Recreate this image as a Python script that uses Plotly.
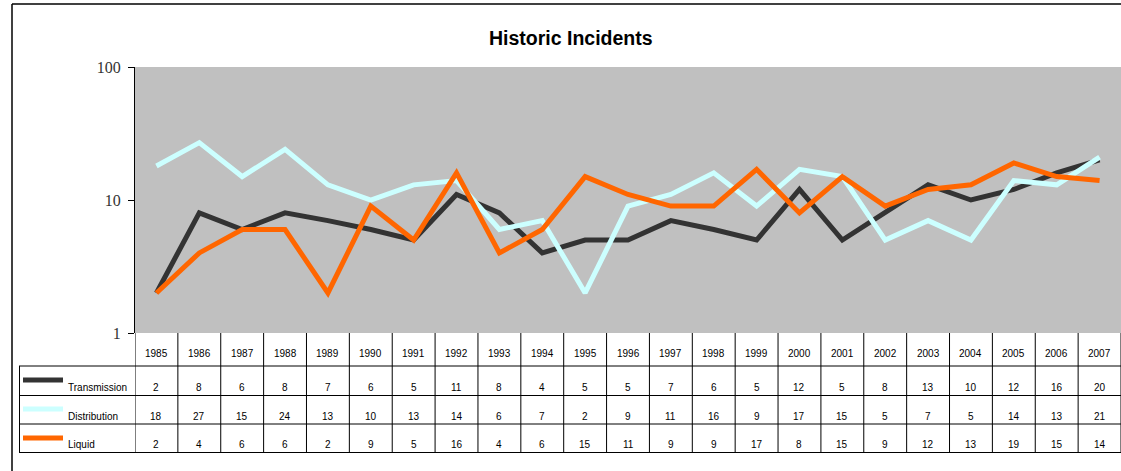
import plotly.graph_objects as go

years = list(range(1985, 2008))
transmission = [2, 8, 6, 8, 7, 6, 5, 11, 8, 4, 5, 5, 7, 6, 5, 12, 5, 8, 13, 10, 12, 16, 20]
distribution = [18, 27, 15, 24, 13, 10, 13, 14, 6, 7, 2, 9, 11, 16, 9, 17, 15, 5, 7, 5, 14, 13, 21]
liquid = [2, 4, 6, 6, 2, 9, 5, 16, 4, 6, 15, 11, 9, 9, 17, 8, 15, 9, 12, 13, 19, 15, 14]

series = [
    ("Transmission", transmission, "#333333"),
    ("Distribution", distribution, "#CCFFFF"),
    ("Liquid", liquid, "#FF6600"),
]

W, H = 1121, 471
ML, MT, MR, MB = 135, 67, 0, 138
PH = H - MT - MB
PW = W - ML - MR


def py(p):  # pixel y -> paper y
    return (H - MB - p) / PH


def px(p):  # pixel x -> paper x
    return (p - ML) / PW


fig = go.Figure()
for name, vals, col in series:
    fig.add_trace(go.Scatter(x=years, y=vals, mode="lines", name=name,
                             line=dict(color=col, width=5), showlegend=False))

shapes = []
annotations = []
line_col = "#000000"

row_tops = [366, 395.5, 424]
row_bot = 452.5

for yy in row_tops + [row_bot]:
    shapes.append(dict(type="line", xref="paper", yref="paper",
                       x0=px(19), x1=1, y0=py(yy), y1=py(yy),
                       line=dict(color=line_col, width=1)))
shapes.append(dict(type="line", xref="paper", yref="paper",
                   x0=px(19.5), x1=px(19.5), y0=py(row_tops[0]), y1=py(row_bot),
                   line=dict(color=line_col, width=1)))
for yr in years + [years[-1] + 1]:
    shapes.append(dict(type="line", xref="x", yref="paper",
                       x0=yr - 0.5, x1=yr - 0.5, y0=0, y1=py(row_bot),
                       line=dict(color=line_col, width=1)))

for yr in years:
    annotations.append(dict(x=yr, y=py(353), xref="x", yref="paper",
                            text=str(yr), showarrow=False,
                            font=dict(family="Arial, Liberation Sans", size=10, color="#000"),
                            xanchor="center", yanchor="middle"))

sample_y = [380, 409, 438]
label_y = [387, 416, 444]
for i, (name, vals, col) in enumerate(series):
    shapes.append(dict(type="line", xref="paper", yref="paper",
                       x0=px(23), x1=px(63), y0=py(sample_y[i]), y1=py(sample_y[i]),
                       line=dict(color=col, width=5)))
    annotations.append(dict(x=px(66), y=py(label_y[i]), xref="paper", yref="paper",
                            text=name, showarrow=False,
                            font=dict(family="Arial, Liberation Sans", size=10, color="#000"),
                            xanchor="left", yanchor="middle"))
    for yr, v in zip(years, vals):
        annotations.append(dict(x=yr, y=py(label_y[i]), xref="x", yref="paper",
                                text=str(v), showarrow=False,
                                font=dict(family="Arial, Liberation Sans", size=10, color="#000"),
                                xanchor="center", yanchor="middle"))

shapes.append(dict(type="line", xref="paper", yref="paper",
                   x0=px(12), x1=px(12), y0=py(4), y1=py(H + 5),
                   line=dict(color="#000", width=1.5)))
shapes.append(dict(type="line", xref="paper", yref="paper",
                   x0=px(12), x1=1.02, y0=py(4), y1=py(4),
                   line=dict(color="#000", width=1.5)))

annotations.append(dict(x=px(571), y=py(38), xref="paper", yref="paper",
                        text="<b>Historic Incidents</b>", showarrow=False,
                        font=dict(family="Arial, Liberation Sans", size=19.5, color="#000"),
                        xanchor="center", yanchor="middle"))

fig.update_layout(
    width=W, height=H,
    margin=dict(l=ML, r=MR, t=MT, b=MB, pad=0),
    paper_bgcolor="white",
    plot_bgcolor="#C0C0C0",
    shapes=shapes,
    annotations=annotations,
    xaxis=dict(range=[1984.5, 2007.5], showticklabels=False, showgrid=False,
               zeroline=False, ticks="", showline=False, fixedrange=True),
    yaxis=dict(type="log", range=[0, 2], tickvals=[1, 10, 100],
               ticktext=["1", "10", "100"], showgrid=False, zeroline=False,
               ticks="outside", ticklen=6, tickcolor="#000", ticklabelstandoff=4,
               showline=True, linecolor="#000", linewidth=1,
               tickfont=dict(family="Liberation Serif, Times New Roman", size=16, color="#333")),
)

fig.write_html("out.html", config={"displayModeBar": False},
               post_script="document.body.style.margin='0';document.body.style.overflow='hidden';")
